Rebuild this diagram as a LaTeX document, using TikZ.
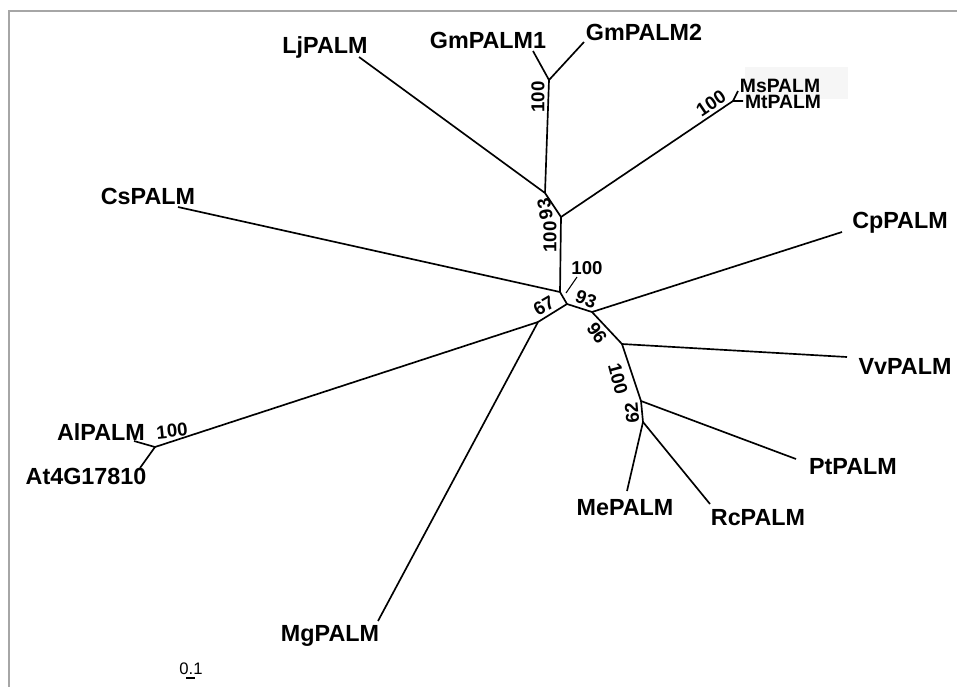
\documentclass[tikz,border=0pt]{standalone}
\usepackage{fontspec}
\setmainfont{Liberation Sans}
\begin{document}
\begin{tikzpicture}[x=0.75pt,y=-0.75pt,
  branch/.style={line width=1.25pt,black},
  leaf/.style={font=\bfseries\fontsize{17.5}{20}\selectfont,inner sep=0pt},
  smallleaf/.style={font=\bfseries\fontsize{14.5}{17}\selectfont,inner sep=0pt},
  boot/.style={font=\bfseries\fontsize{14}{16}\selectfont,inner sep=0pt}]
\useasboundingbox (0,0) rectangle (957,687);
\fill[white] (0,0) rectangle (957,687);
\draw[gray!70,line width=1pt] (957,11) -- (9,11) -- (9,687);
\fill[gray!7] (745,67) rectangle (848,99);
% internal nodes
\coordinate (A) at (545,193);
\coordinate (B) at (561,217);
\coordinate (C) at (560,292);
\coordinate (D) at (567,304);
\coordinate (E) at (538,322);
\coordinate (F) at (592,312);
\coordinate (G) at (622,344);
\coordinate (H) at (641,401);
\coordinate (I) at (643,422);
\coordinate (gmj) at (549,80);
\coordinate (msj) at (733,101);
\coordinate (alj) at (155,447);
% leaf ends
\coordinate (lj) at (359,57);
\coordinate (gm1) at (533,51);
\coordinate (gm2) at (584,42);
\coordinate (ms) at (738,91);
\coordinate (mt) at (743,101);
\coordinate (cs) at (178,207);
\coordinate (cp) at (842,232);
\coordinate (vv) at (847,357);
\coordinate (pt) at (796,459);
\coordinate (rc) at (710,504);
\coordinate (me) at (627,491);
\coordinate (mg) at (378,621);
\coordinate (al) at (134,441);
\coordinate (at) at (140,468);
% branches
\draw[branch] (gm1) -- (gmj) -- (gm2);
\draw[branch] (gmj) -- (A);
\draw[branch] (lj) -- (A) -- (B);
\draw[branch] (B) -- (msj);
\draw[branch] (ms) -- (msj) -- (mt);
\draw[branch] (B) -- (C);
\draw[branch] (cs) -- (C) -- (D);
\draw[branch] (D) -- (E);
\draw[branch] (E) -- (alj);
\draw[branch] (al) -- (alj) -- (at);
\draw[branch] (E) -- (mg);
\draw[branch] (D) -- (F) -- (cp);
\draw[branch] (F) -- (G) -- (vv);
\draw[branch] (G) -- (H) -- (pt);
\draw[branch] (H) -- (I) -- (me);
\draw[branch] (I) -- (rc);
% leaf labels
\node[leaf] (tlj) at (325,47) {LjPALM};
\node[leaf] (tgm1) at (488,40) {GmPALM1};
\node[leaf] (tgm2) at (644,32) {GmPALM2};
\node[smallleaf] (tms) at (780,86) {MsPALM};
\node[smallleaf] (tmt) at (783,102) {MtPALM};
\node[leaf] (tcs) at (148,196) {CsPALM};
\node[leaf] (tcp) at (900,223) {CpPALM};
\node[leaf] (tvv) at (905,366) {VvPALM};
\node[leaf] (tpt) at (853,467) {PtPALM};
\node[leaf] (trc) at (758,518) {RcPALM};
\node[leaf] (tme) at (625,508) {MePALM};
\node[leaf] (tmg) at (330,636) {MgPALM};
\node[leaf] (tal) at (101,432) {AlPALM};
\node[leaf] (tat) at (86,476) {At4G17810};
% bootstrap values
\node[boot,rotate=90] (b1) at (538,97) {100};
\node[boot,rotate=100] (b2) at (545,209) {93};
\node[boot,rotate=90] (b3) at (550,237) {100};
\node[boot] (b4) at (587,268) {100};
\coordinate (l1) at (566,293);
\coordinate (l2) at (577,277);
\draw[line width=0.8pt] (l1) -- (l2);
\node[boot,rotate=-20] (b5) at (586,299) {93};
\node[boot,rotate=30] (b6) at (544,306) {67};
\node[boot,rotate=-55] (b7) at (597,333) {96};
\node[boot,rotate=-75] (b8) at (618,379) {100};
\node[boot,rotate=95] (b9) at (632,413) {62};
\node[boot,rotate=34] (b10) at (711,103) {100};
\node[boot,rotate=6] (b11) at (172,431) {100};
% scale
\node[font=\fontsize{12.5}{14}\selectfont,inner sep=0pt] (sc) at (191,669) {0.1};
\coordinate (s1) at (186,678);
\coordinate (s2) at (195,678);
\draw[line width=0.9pt] (s1) -- (s2);
\end{tikzpicture}
\end{document}
